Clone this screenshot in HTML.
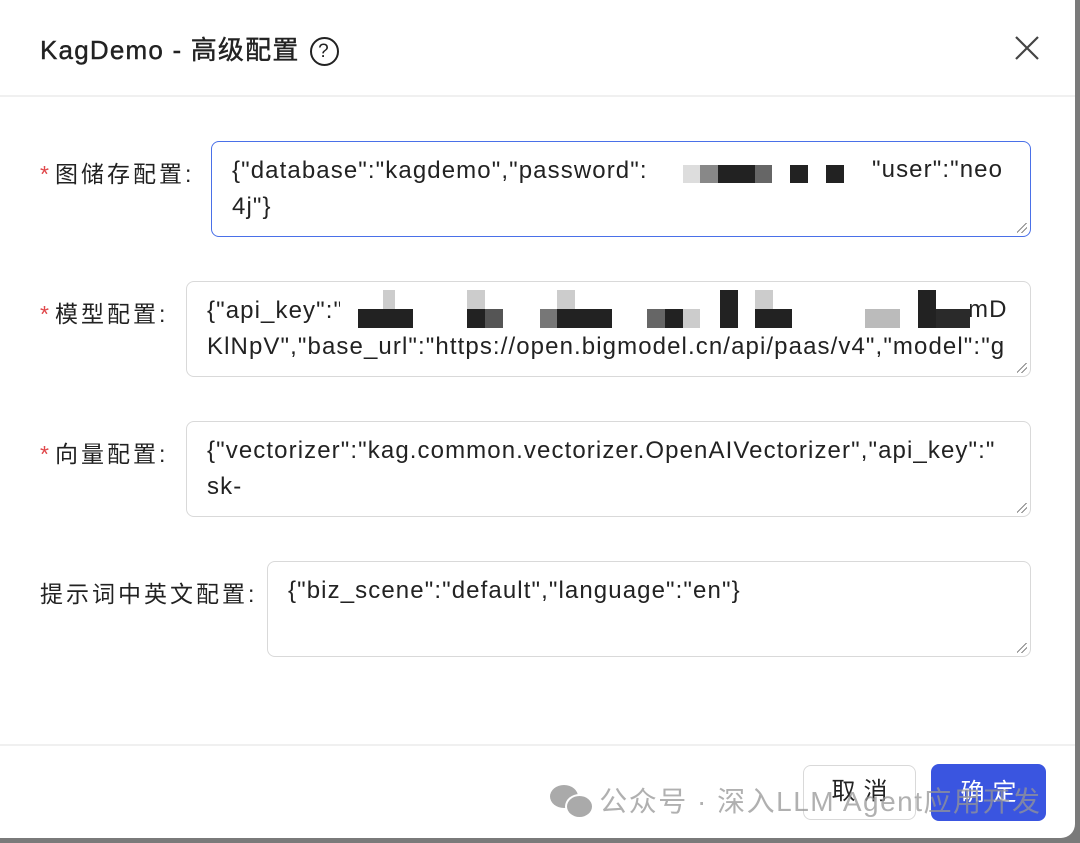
<!DOCTYPE html>
<html><head><meta charset="utf-8"><style>
body{margin:0;width:1080px;height:843px;background:#7a7a7a;position:relative;overflow:hidden;font-family:"Liberation Sans","Noto Sans CJK SC",sans-serif;}
.modal{position:absolute;left:0;top:-20px;width:1075px;height:858px;background:#fff;border-radius:0 14px 14px 0;}
.abs{position:absolute;}
.title{left:40px;top:30px;font-size:26px;color:#222;font-weight:normal;letter-spacing:1.2px;white-space:nowrap;-webkit-text-stroke:0.4px #222}
.help{display:inline-block;width:25px;height:25px;border:2px solid #222;border-radius:50%;font-size:19px;text-align:center;line-height:25px;vertical-align:2px;margin-left:10px;font-weight:normal;-webkit-text-stroke:0}
.hr{left:0;width:1075px;height:2px;background:#f0f0f0;}
.lbl{font-size:23px;color:#222;letter-spacing:3px;white-space:nowrap}
.lbl b{color:#e0474a;font-weight:normal;margin-right:6px;letter-spacing:0}
.ta{border:1.5px solid #d9d9d9;border-radius:8px;box-sizing:border-box;padding:11px 20px 0 20px;font-size:24px;letter-spacing:1.1px;line-height:36px;color:#222;white-space:nowrap;overflow:hidden;}
.ta::after{content:"";position:absolute;right:3px;bottom:3px;width:10px;height:10px;background:linear-gradient(135deg,transparent 45%,#888 45%,#888 52%,transparent 52%,transparent 70%,#888 70%,#888 77%,transparent 77%);}
.r{position:absolute;}
.t{position:absolute;font-size:24px;letter-spacing:1.1px;color:#222;white-space:nowrap;line-height:36px}
</style></head><body>
<div class="modal"></div>
<div class="abs title">KagDemo - 高级配置<span class="help">?</span></div>
<svg class="abs" style="left:1014px;top:35px" width="26" height="26"><path d="M2 2L24 24M24 2L2 24" stroke="#444" stroke-width="2.2"/></svg>
<div class="abs hr" style="top:95px"></div>

<div class="abs lbl" style="left:40px;top:155px"><b>*</b>图储存配置:</div>
<div class="abs ta" style="left:211px;top:141px;width:820px;height:96px;border-color:#4a70e8">{"database":"kagdemo","password":<br>4j"}</div>
<div class="t" style="left:872px;top:152px">"user":"neo</div>
<div class="r" style="left:683px;top:165px;width:17px;height:18px;background:#ddd"></div>
<div class="r" style="left:700px;top:165px;width:18px;height:18px;background:#888"></div>
<div class="r" style="left:718px;top:165px;width:37px;height:18px;background:#222"></div>
<div class="r" style="left:755px;top:165px;width:17px;height:18px;background:#666"></div>
<div class="r" style="left:790px;top:165px;width:18px;height:18px;background:#222"></div>
<div class="r" style="left:826px;top:165px;width:18px;height:18px;background:#222"></div>

<div class="abs lbl" style="left:40px;top:295px"><b>*</b>模型配置:</div>
<div class="abs ta" style="left:186px;top:281px;width:845px;height:96px">{"api_key":"<br>KlNpV","base_url":"https://open.bigmodel.cn/api/paas/v4","model":"g</div>
<div class="t" style="left:968px;top:292px">mD</div>
<div class="r" style="left:340px;top:283px;width:630px;height:48px;background:#fff"></div>
<div class="r" style="left:358px;top:309px;width:55px;height:19px;background:#222"></div>
<div class="r" style="left:383px;top:290px;width:12px;height:19px;background:#ccc"></div>
<div class="r" style="left:467px;top:290px;width:18px;height:19px;background:#ccc"></div>
<div class="r" style="left:467px;top:309px;width:18px;height:19px;background:#222"></div>
<div class="r" style="left:485px;top:309px;width:18px;height:19px;background:#555"></div>
<div class="r" style="left:540px;top:309px;width:17px;height:19px;background:#777"></div>
<div class="r" style="left:557px;top:290px;width:18px;height:19px;background:#ccc"></div>
<div class="r" style="left:557px;top:309px;width:55px;height:19px;background:#222"></div>
<div class="r" style="left:647px;top:309px;width:18px;height:19px;background:#666"></div>
<div class="r" style="left:665px;top:309px;width:18px;height:19px;background:#222"></div>
<div class="r" style="left:683px;top:309px;width:17px;height:19px;background:#ccc"></div>
<div class="r" style="left:720px;top:290px;width:18px;height:38px;background:#222"></div>
<div class="r" style="left:755px;top:290px;width:18px;height:19px;background:#ccc"></div>
<div class="r" style="left:755px;top:309px;width:37px;height:19px;background:#222"></div>
<div class="r" style="left:865px;top:309px;width:35px;height:19px;background:#bbb"></div>
<div class="r" style="left:918px;top:290px;width:18px;height:38px;background:#222"></div>
<div class="r" style="left:936px;top:309px;width:34px;height:19px;background:#2a2a2a"></div>

<div class="abs lbl" style="left:40px;top:435px"><b>*</b>向量配置:</div>
<div class="abs ta" style="left:186px;top:421px;width:845px;height:96px">{"vectorizer":"kag.common.vectorizer.OpenAIVectorizer","api_key":"<br>sk-</div>

<div class="abs lbl" style="left:40px;top:575px">提示词中英文配置:</div>
<div class="abs ta" style="left:267px;top:561px;width:764px;height:96px">{"biz_scene":"default","language":"en"}</div>

<div class="abs hr" style="top:744px"></div>
<div class="abs" style="left:803px;top:765px;width:113px;height:55px;border:1.5px solid #d9d9d9;border-radius:8px;box-sizing:border-box;text-align:center;line-height:52px;font-size:24px;color:#222;letter-spacing:8px;text-indent:8px">取消</div>
<div class="abs" style="left:931px;top:764px;width:115px;height:57px;background:#3a55e0;border-radius:8px;text-align:center;line-height:57px;font-size:24px;color:#fff;letter-spacing:8px;text-indent:8px">确定</div>
<div class="abs" style="left:550px;top:780px;font-size:28px;letter-spacing:1.5px;color:rgba(150,150,150,0.75);white-space:nowrap"><span style="display:inline-block;width:40px;height:30px;vertical-align:-4px;position:relative"><span style="position:absolute;left:0;top:0;width:28px;height:23px;border-radius:50%;background:#aaa"></span><span style="position:absolute;left:15px;top:9px;width:25px;height:21px;border-radius:50%;background:#aaa;border:2px solid #fff"></span></span> 公众号 · 深入LLM Agent应用开发</div>
</body></html>
